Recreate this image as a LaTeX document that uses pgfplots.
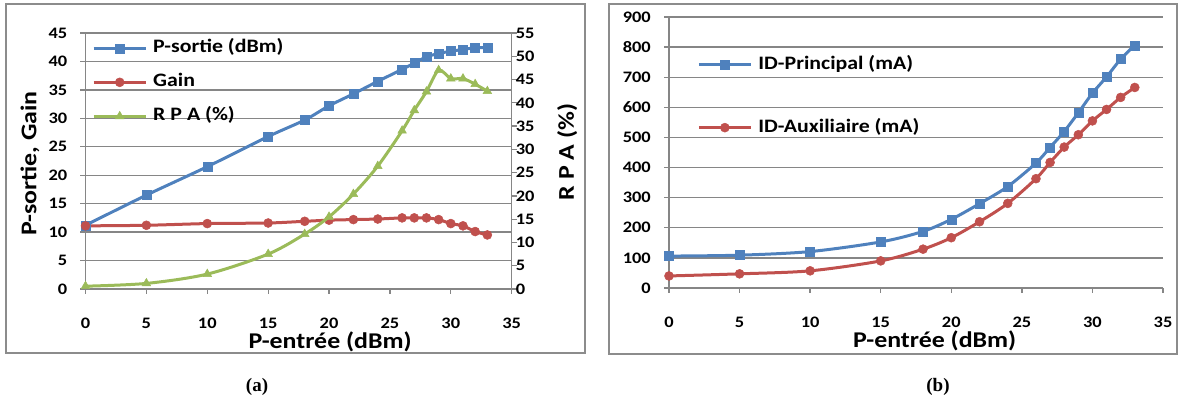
\documentclass[border=0pt]{standalone}
\usepackage{pgfplots}
\pgfplotsset{compat=1.18}
\usepackage{fontspec}
\setmainfont[FakeStretch=1.15]{Carlito}
\newfontfamily\capfont{Liberation Serif}
\definecolor{xblue}{HTML}{4F81BD}
\definecolor{xred}{HTML}{C0504D}
\definecolor{xgreen}{HTML}{9BBB59}
\definecolor{xgrid}{HTML}{868686}
\definecolor{xframe}{HTML}{8C8C8C}
\pgfplotsset{
  excel/.style={
    scale only axis,
    /pgf/number format/assume math mode=true,
    tick label style={font=\bfseries\fontsize{16}{18}\selectfont, text=black},
    axis line style={xgrid, line width=1.3pt},
    major tick style={xgrid, line width=1.3pt},
    tick align=outside,
    major tick length=5pt,
    grid style={xgrid, line width=1.3pt},
    label style={font=\bfseries\fontsize{22.5}{26}\selectfont},
    xmin=0, xmax=35, xtick={0,5,...,35},
    xticklabel style={anchor=north, inner sep=0pt, yshift=-24pt},
    yticklabel style={anchor=east, inner sep=0pt, xshift=-13pt},
    legend image code/.code={\draw[##1, mark repeat=2, mark phase=2] plot coordinates {(0pt,0pt)(26pt,0pt)(52pt,0pt)};},
  },
  sblue/.style={xblue, line width=3pt, mark=square*, mark size=4.5pt, mark options={solid, fill=xblue, draw=xblue, line width=0.5pt}},
  sred/.style={xred, line width=3pt, mark=*, mark size=4.5pt, mark options={solid, fill=xred, draw=xred, line width=0.5pt}},
  sgreen/.style={xgreen, line width=3pt, mark=triangle*, mark size=5pt, mark options={solid, fill=xgreen, draw=xgreen, line width=0.5pt}},
}
\begin{document}
\begin{tikzpicture}
\useasboundingbox (0pt,0pt) rectangle (1179pt,398pt);
\draw[xframe, line width=2pt] (6pt,394pt) rectangle (585pt,45pt);
\draw[xframe, line width=2pt] (609pt,394pt) rectangle (1177pt,44pt);
% ---------- panel (a), left axis
\begin{axis}[excel,
  at={(85.5pt,109pt)}, anchor=south west,
  width=426.2pt, height=256pt,
  axis x line*=bottom, axis y line*=left,
  ymin=0, ymax=45, ytick={0,5,...,45},
  ymajorgrids,
  xlabel={P-entrée (dBm)},
  ylabel={P-sortie, Gain},
  xlabel style={at={(axis description cs:0.574,-0.207)}, anchor=center},
  ylabel style={at={(axis description cs:-0.130,0.49)}, anchor=center},
]
\addplot[sblue, smooth] coordinates {(0,11.2)(5,16.5)(10,21.5)(15,26.8)(18,29.7)(20,32.2)(22,34.3)(24,36.5)(26,38.6)(27,39.7)(28,40.8)(29,41.4)(30,41.8)(31,42.1)(32,42.4)(33,42.4)};
\addplot[sred, smooth] coordinates {(0,11.1)(5,11.2)(10,11.5)(15,11.6)(18,11.9)(20,12.1)(22,12.2)(24,12.3)(26,12.5)(27,12.5)(28,12.5)(29,12.2)(30,11.5)(31,11.1)(32,10.1)(33,9.5)};
\end{axis}
% ---------- panel (a), right axis
\begin{axis}[excel,
  at={(85.5pt,109pt)}, anchor=south west,
  width=426.2pt, height=256pt,
  axis x line=none, axis y line*=right,
  ymin=0, ymax=55, ytick={0,5,...,55},
  yticklabel style={anchor=west, inner sep=0pt, xshift=12pt},
  ylabel={R P A (\%)},
  ylabel style={at={(axis description cs:1.13,0.535)}, anchor=center, rotate=0},
  legend style={at={(axis description cs:0.0153,0.978)}, anchor=north west, draw=none, fill=none,
    font=\bfseries\fontsize{19}{22}\selectfont, row sep=15pt, inner sep=0pt, column sep=6pt,
    cells={anchor=west}, nodes={inner sep=0pt, text height=14pt, text depth=5pt}},
]
\addlegendimage{sblue}
\addlegendentry{P-sortie (dBm)}
\addlegendimage{sred}
\addlegendentry{Gain}
\addplot[sgreen, smooth] coordinates {(0,0.6)(5,1.2)(10,3.2)(15,7.5)(18,11.8)(20,15.5)(22,20.4)(24,26.4)(26,34.0)(27,38.4)(28,42.4)(29,47.0)(30,45.2)(31,45.2)(32,44.0)(33,42.5)};
\addlegendentry{R P A (\%)}
\end{axis}
% ---------- panel (b)
\begin{axis}[excel,
  at={(669pt,110pt)}, anchor=south west,
  width=494pt, height=271pt,
  axis x line*=bottom, axis y line*=left,
  ymin=0, ymax=900, ytick={0,100,...,900},
  ymajorgrids,
  xlabel={P-entrée (dBm)},
  xlabel style={at={(axis description cs:0.538,-0.196)}, anchor=center},
  legend style={at={(axis description cs:0.057,0.86)}, anchor=north west, draw=none, fill=none,
    font=\bfseries\fontsize{19}{22}\selectfont, row sep=44pt, inner sep=0pt, column sep=6pt,
    cells={anchor=west}, nodes={inner sep=0pt, text height=14pt, text depth=5pt}},
]
\addplot[sblue, smooth] coordinates {(0,106)(5,109)(10,121)(15,153)(18,188)(20,228)(22,280)(24,337)(26,415)(27,467)(28,520)(29,582)(30,647)(31,701)(32,760)(33,806)};
\addlegendentry{ID-Principal (mA)}
\addplot[sred, smooth] coordinates {(0,40)(5,47)(10,57)(15,90)(18,129)(20,167)(22,220)(24,281)(26,363)(27,417)(28,468)(29,509)(30,555)(31,593)(32,633)(33,666)};
\addlegendentry{ID-Auxiliaire (mA)}
\end{axis}
\node[inner sep=0pt] at (257pt,11pt) {\capfont\bfseries\fontsize{19}{21}\selectfont (a)};
\node[inner sep=0pt] at (938pt,11pt) {\capfont\bfseries\fontsize{19}{21}\selectfont (b)};
\end{tikzpicture}
\end{document}
